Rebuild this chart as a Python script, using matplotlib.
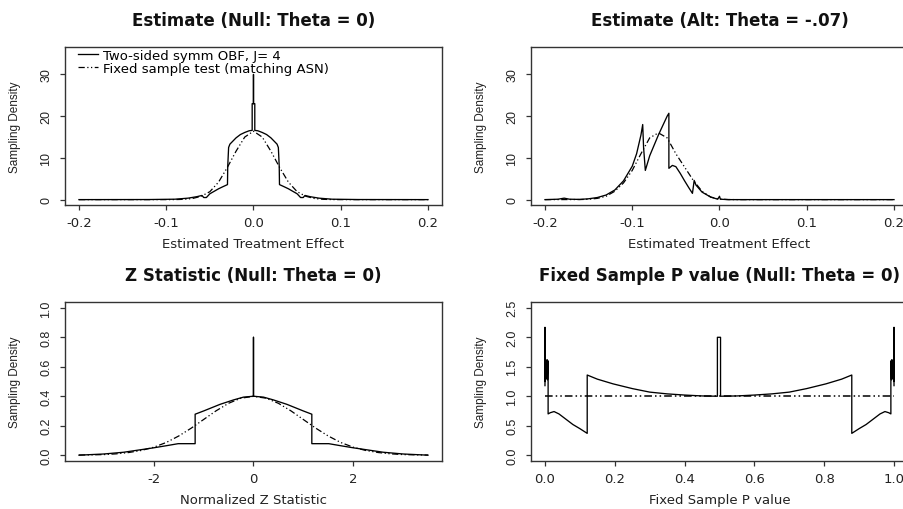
import numpy as np
import matplotlib.pyplot as plt

plt.rcParams['font.family'] = 'DejaVu Sans'
narrow = ['Liberation Sans Narrow', 'Liberation Sans', 'DejaVu Sans']

# ---- Estimate, null (theta = 0) ----
null_x = [-0.2, -0.12, -0.09, -0.075, -0.065, -0.059, -0.057, -0.054, -0.05, -0.045,
          -0.04, -0.035, -0.0298, -0.0295, -0.0285, -0.027, -0.02, -0.015, -0.01,
          -0.005, -0.0015, -0.0015, 0.0, 0.0, 0.0, 0.0015, 0.0015, 0.005, 0.01,
          0.015, 0.02, 0.027, 0.0285, 0.0295, 0.0298, 0.035, 0.04, 0.045, 0.05,
          0.054, 0.057, 0.059, 0.065, 0.075, 0.09, 0.12, 0.2]
null_y = [0.0, 0.02, 0.1, 0.35, 0.7, 1.0, 0.5, 0.5, 1.4, 2.0,
          2.6, 3.1, 3.6, 8.0, 12.5, 13.3, 14.8, 15.6, 16.1,
          16.5, 16.6, 23.0, 23.0, 30.0, 23.0, 23.0, 16.6, 16.5, 16.1,
          15.6, 14.8, 13.3, 12.5, 8.0, 3.6, 3.1, 2.6, 2.0, 1.4,
          0.5, 0.5, 1.0, 0.7, 0.35, 0.1, 0.02, 0.0]
null_fx = [-0.2, -0.1, -0.09, -0.08, -0.07, -0.06, -0.05, -0.04, -0.03, -0.02, -0.01, 0.0,
           0.01, 0.02, 0.03, 0.04, 0.05, 0.06, 0.07, 0.08, 0.09, 0.1, 0.2]
null_fy = [0.0, 0.0, 0.01, 0.07, 0.26, 0.8, 1.9, 4.2, 7.7, 11.6, 15.0, 16.4,
           15.0, 11.6, 7.7, 4.2, 1.9, 0.8, 0.26, 0.07, 0.01, 0.0, 0.0]

# ---- Estimate, alternative (theta = -.07) ----
alt_x = [-0.2, -0.185, -0.178, -0.172, -0.16, -0.15, -0.14, -0.13, -0.12, -0.11,
         -0.10, -0.095, -0.09, -0.088, -0.087, -0.085, -0.08, -0.07, -0.06, -0.058,
         -0.058, -0.054, -0.05, -0.045, -0.04, -0.035, -0.031, -0.029, -0.027, -0.02,
         -0.01, -0.002, 0.0, 0.001, 0.01, 0.2]
alt_y = [0.0, 0.1, 0.35, 0.1, 0.05, 0.2, 0.5, 1.1, 2.3, 4.5,
         8.0, 11.0, 15.5, 18.0, 12.5, 7.0, 10.5, 15.5, 20.0, 20.7,
         7.5, 8.2, 7.9, 6.3, 4.5, 2.8, 1.5, 4.6, 3.5, 1.8,
         0.6, 0.1, 0.8, 0.1, 0.0, 0.0]
alt_fx = [-0.2, -0.16, -0.15, -0.14, -0.13, -0.12, -0.11, -0.10, -0.09, -0.08, -0.07,
          -0.06, -0.05, -0.045, -0.04, -0.03, -0.02, -0.01, 0.0, 0.01, 0.02, 0.2]
alt_fy = [0.0, 0.02, 0.08, 0.3, 0.8, 2.0, 4.0, 7.0, 11.0, 14.8, 16.0,
          14.8, 11.0, 9.4, 7.8, 4.6, 2.0, 0.6, 0.12, 0.02, 0.0, 0.0]

# ---- Z statistic ----
z_x = [-3.5, -3.0, -2.6, -2.3, -2.0, -1.75, -1.51, -1.17, -1.17, -1.0, -0.67, -0.4,
       -0.2, 0.0, 0.0, 0.0, 0.2, 0.4, 0.67, 1.0, 1.17, 1.17, 1.51, 1.75, 2.0, 2.3,
       2.6, 3.0, 3.5]
z_y = [0.0, 0.008, 0.02, 0.035, 0.05, 0.064, 0.078, 0.078, 0.278, 0.30, 0.345, 0.375,
       0.394, 0.40, 0.80, 0.40, 0.394, 0.375, 0.345, 0.30, 0.278, 0.078, 0.078, 0.064,
       0.05, 0.035, 0.02, 0.008, 0.0]
z_fx = [-3.5, -3.25, -3.0, -2.75, -2.5, -2.25, -2.0, -1.75, -1.5, -1.25, -1.0, -0.75,
        -0.5, -0.25, 0.0, 0.25, 0.5, 0.75, 1.0, 1.25, 1.5, 1.75, 2.0, 2.25, 2.5,
        2.75, 3.0, 3.25, 3.5]
z_fy = [0.001, 0.002, 0.004, 0.009, 0.018, 0.032, 0.054, 0.086, 0.130, 0.183, 0.242,
        0.301, 0.352, 0.387, 0.399, 0.387, 0.352, 0.301, 0.242, 0.183, 0.130, 0.086,
        0.054, 0.032, 0.018, 0.009, 0.004, 0.002, 0.001]

# ---- Fixed sample P value ----
p_x = [0.0, 0.0, 0.001, 0.002, 0.003, 0.004, 0.005, 0.006, 0.007, 0.008, 0.009, 0.009,
       0.015, 0.026, 0.04, 0.06, 0.08, 0.10, 0.121, 0.121, 0.15, 0.195, 0.25, 0.30,
       0.35, 0.40, 0.45, 0.494, 0.494, 0.503, 0.503, 0.55, 0.60, 0.65, 0.70, 0.75,
       0.805, 0.85, 0.879, 0.879, 0.90, 0.92, 0.94, 0.96, 0.974, 0.985, 0.991, 0.991,
       0.992, 0.993, 0.994, 0.995, 0.996, 0.997, 0.998, 0.999, 1.0, 1.0]
p_y = [1.18, 2.17, 1.25, 1.55, 1.3, 1.6, 1.3, 1.62, 1.28, 1.55, 1.6, 0.70,
       0.72, 0.74, 0.70, 0.61, 0.52, 0.45, 0.37, 1.36, 1.29, 1.21, 1.13, 1.07,
       1.04, 1.02, 1.005, 1.0, 2.0, 2.0, 1.0, 1.005, 1.02, 1.04, 1.07, 1.13,
       1.21, 1.29, 1.36, 0.37, 0.45, 0.52, 0.61, 0.70, 0.74, 0.72, 0.70, 1.6,
       1.55, 1.28, 1.62, 1.3, 1.6, 1.3, 1.55, 1.25, 2.17, 1.18]
p_fx = [0.0, 1.0]
p_fy = [1.0, 1.0]

dash = (0, (5, 2, 1, 2, 1, 2))
ink = '#333333'
txt = '#222222'


def r_style(ax, xlim, ylim, xticks, xlabels, yticks, ylabels, xlabel, title):
    ax.set_xlim(xlim)
    ax.set_ylim(ylim)
    ax.set_xticks(xticks, xlabels, fontsize=9.5, color=txt)
    ax.set_yticks(yticks, ylabels, rotation=90, va='center', family=narrow,
                  fontsize=9, color=txt)
    ax.tick_params(direction='out', length=3.6, width=0.9, color=ink)
    ax.tick_params(axis='x', pad=4.5)
    ax.tick_params(axis='y', pad=5.5)
    for s in ax.spines.values():
        s.set_color(ink)
        s.set_linewidth(1.0)
    ax.set_xlabel(xlabel, fontsize=9.5, labelpad=5.5, color=txt)
    ax.set_ylabel('Sampling Density', family=narrow, fontsize=8.5, labelpad=14,
                  color=txt)
    ax.set_title(title, fontsize=12, fontweight='bold', pad=16, color='#111111')


fig = plt.figure(figsize=(9.04, 5.10), dpi=100)
w = 0.417
ax1 = fig.add_axes([0.0719, 0.596, w, 0.310])
ax2 = fig.add_axes([0.5874, 0.596, w, 0.310])
ax3 = fig.add_axes([0.0719, 0.094, w, 0.312])
ax4 = fig.add_axes([0.5874, 0.094, w, 0.312])

est_ticks = [-0.2, -0.1, 0.0, 0.1, 0.2]
est_labels = ['-0.2', '-0.1', '0.0', '0.1', '0.2']
dens_ticks = [0, 10, 20, 30]

ax1.plot(null_x, null_y, color='black', lw=0.95, label='Two-sided symm OBF, J= 4')
ax1.plot(null_fx, null_fy, color='black', lw=0.9, ls=dash,
         label='Fixed sample test (matching ASN)')
r_style(ax1, (-0.216, 0.216), (-1.3, 36.6), est_ticks, est_labels,
        dens_ticks, [str(t) for t in dens_ticks], 'Estimated Treatment Effect',
        'Estimate (Null: Theta = 0)')
ax1.legend(loc='upper left', bbox_to_anchor=(0.031, 0.997), frameon=False,
           fontsize=9.5, handlelength=1.5, handletextpad=0.4, labelspacing=0.0,
           borderpad=0.1, borderaxespad=0)

ax2.plot(alt_x, alt_y, color='black', lw=0.95)
ax2.plot(alt_fx, alt_fy, color='black', lw=0.9, ls=dash)
r_style(ax2, (-0.216, 0.216), (-1.3, 36.6), est_ticks, est_labels,
        dens_ticks, [str(t) for t in dens_ticks], 'Estimated Treatment Effect',
        'Estimate (Alt: Theta = -.07)')

z_ticks = [-2, 0, 2]
zy_ticks = [0.0, 0.2, 0.4, 0.6, 0.8, 1.0]
ax3.plot(z_x, z_y, color='black', lw=0.95)
ax3.plot(z_fx, z_fy, color='black', lw=0.9, ls=dash)
r_style(ax3, (-3.78, 3.78), (-0.04, 1.04), z_ticks, ['-2', '0', '2'],
        zy_ticks, ['%.1f' % t for t in zy_ticks], 'Normalized Z Statistic',
        'Z Statistic (Null: Theta = 0)')

p_ticks = [0.0, 0.2, 0.4, 0.6, 0.8, 1.0]
py_ticks = [0.0, 0.5, 1.0, 1.5, 2.0, 2.5]
ax4.plot(p_x, p_y, color='black', lw=0.95)
ax4.plot(p_fx, p_fy, color='black', lw=1.1, ls=dash)
r_style(ax4, (-0.04, 1.04), (-0.1, 2.6), p_ticks, ['%.1f' % t for t in p_ticks],
        py_ticks, ['%.1f' % t for t in py_ticks], 'Fixed Sample P value',
        'Fixed Sample P value (Null: Theta = 0)')

fig.savefig('out.png', dpi=100)
